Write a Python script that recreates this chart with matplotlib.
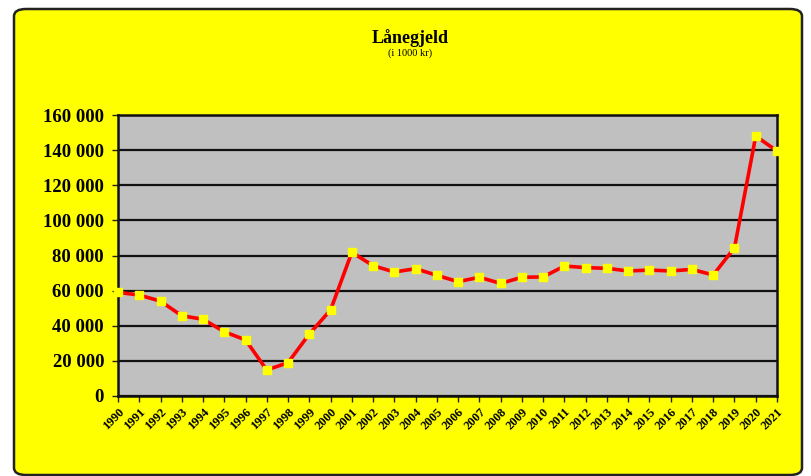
import matplotlib
matplotlib.use('Agg')
import matplotlib.pyplot as plt
from matplotlib.patches import FancyBboxPatch
from matplotlib.ticker import FuncFormatter

# Lånegjeld (i 1000 kr)
years = list(range(1990, 2022))
loan = [59000, 57500, 54000, 45700, 43700, 36600, 31900, 14800, 19000, 35300,
        49000, 81800, 74200, 70600, 72500, 68700, 65100, 67600, 64100, 67600,
        67800, 74000, 73100, 72700, 71200, 71700, 71200, 72100, 68900, 84400,
        148000, 139500]
yticks = [0, 20000, 40000, 60000, 80000, 100000, 120000, 140000, 160000]

serif = ['Liberation Serif', 'DejaVu Serif']

fig = plt.figure(figsize=(8.11, 4.76), dpi=100)
fig.patch.set_facecolor('white')

# yellow rounded chart area
box = FancyBboxPatch((14/811, 1/476), (802-14)/811, (467-1)/476,
                     boxstyle='round,pad=0,rounding_size=0.015',
                     transform=fig.transFigure, facecolor='#FFFF00',
                     edgecolor='#222222', linewidth=1.8, zorder=-1)
fig.patches.append(box)

ax = fig.add_axes([118/811, 1 - 396/476, (777-118)/811, (396-115)/476])
ax.set_zorder(1)
ax.set_facecolor('#C0C0C0')
for s in ax.spines.values():
    s.set_color('#111111')
    s.set_linewidth(1.8)

ax.plot(years, loan, color='#FF0000', lw=2.6, marker='s', ms=6,
        mfc='#FFFF00', mec='#FFFF00', zorder=3, clip_on=False)

ax.set_xlim(1990, 2021)
ax.set_ylim(0, 160000)
ax.set_yticks(yticks)
ax.yaxis.set_major_formatter(FuncFormatter(lambda v, p: f'{int(v):,}'.replace(',', ' ')))
ax.set_xticks(years)
ax.set_xticklabels([str(y) for y in years], rotation=45, ha='right',
                   rotation_mode='anchor', fontsize=9, fontweight='bold',
                   family=serif)
for lab in ax.get_yticklabels():
    lab.set_fontsize(13.5)
    lab.set_fontweight('bold')
    lab.set_family(serif)
ax.tick_params(axis='both', direction='out', length=4, width=1, color='#222222')
ax.tick_params(axis='x', pad=3)
ax.tick_params(axis='y', pad=6)
ax.grid(axis='y', color='#111111', lw=1.6)
ax.set_axisbelow(True)

fig.text(410/811, 1 - 38/476, 'Lånegjeld', ha='center', va='center',
         fontsize=13, fontweight='bold', family=serif)
fig.text(410/811, 1 - 53/476, '(i 1000 kr)', ha='center', va='center',
         fontsize=7.5, family=serif)

fig.savefig('out.png', dpi=100, facecolor=fig.get_facecolor())
